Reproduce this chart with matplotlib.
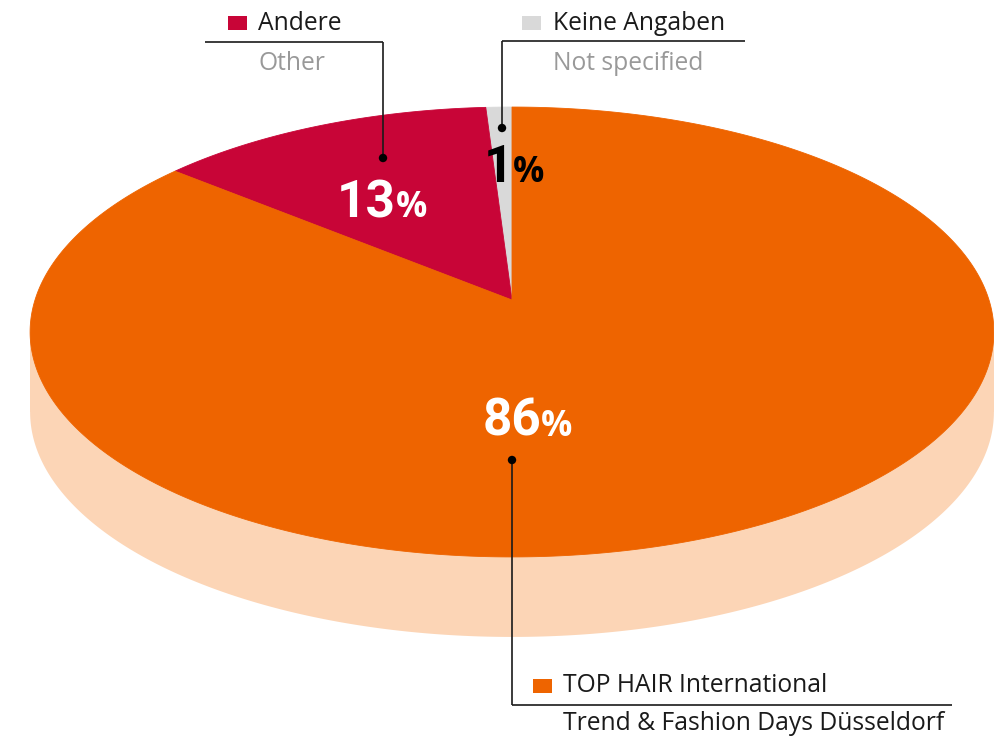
import numpy as np
import matplotlib
matplotlib.use("Agg")
import matplotlib.pyplot as plt
from matplotlib.patches import Polygon, Circle

# ---- data ----
labels_de = ["Keine Angaben", "Andere", "TOP HAIR International"]
labels_en = ["Not specified", "Other", "Trend & Fashion Days Düsseldorf"]
values = [1, 13, 86]
colors = ["#D9D9D9", "#C80537", "#EE6400"]
side_color = "#FCD5B6"

FONT = "Open Sans"
NUMFONT = "Roboto"

fig = plt.figure(figsize=(9.95, 7.38), dpi=100)
ax = fig.add_axes([0, 0, 1, 1])
ax.set_xlim(0, 995)
ax.set_ylim(738, 0)
ax.axis("off")

# perspective disk projection
cx, cy = 512, 300
sx, sy, k = 477.0, 220.4, 0.1422
depth = 80


def proj(u, v, dy=0.0):
    w = 1 + k * v
    return cx + sx * u / w, cy - sy * v / w + dy


# side (thickness)
t = np.linspace(0, 2 * np.pi, 721)
bx, by = proj(np.cos(t), np.sin(t), depth)
ax.add_patch(Polygon(np.column_stack([bx, by]), closed=True, fc=side_color, ec="none", zorder=1))
tx, ty = proj(np.cos(t), np.sin(t))
ax.fill_between([tx.min(), tx.max()], [cy + 32, cy + 32], [cy + 32 + depth, cy + 32 + depth],
                color=side_color, lw=0, zorder=1)

# top wedges
start = 90.0
total = sum(values)
for val, col in zip(values, colors):
    span = 360.0 * val / total
    a = np.radians(np.linspace(start, start + span, max(int(span * 4), 4)))
    px, py = proj(np.cos(a), np.sin(a))
    pts = np.vstack([[cx, cy], np.column_stack([px, py])])
    ax.add_patch(Polygon(pts, closed=True, fc=col, ec=col, lw=0.6, zorder=2))
    start += span

# percentage labels: (split x, baseline y, color)
pct_pos = [(513, 182, "black"), (396, 217, "white"), (541, 436, "white")]
for val, (x, y, c) in zip(values, pct_pos):
    ax.text(x, y, f"{val}", ha="right", va="baseline", fontsize=37, fontweight="bold",
            color=c, family=NUMFONT, zorder=5)
    ax.text(x, y, "%", ha="left", va="baseline", fontsize=25, fontweight="bold",
            color=c, family=FONT, zorder=5)

# leaders
leaders = [
    dict(dot=(502, 128), ly=41, x0=502, x1=745, sq=522, tx=553, y1=23, y2=64, c2="#999999"),
    dict(dot=(383, 158), ly=42, x0=205, x1=383, sq=228, tx=258, y1=23, y2=64, c2="#999999"),
    dict(dot=(512, 460), ly=705, x0=512, x1=952, sq=533, tx=563, y1=686, y2=723, c2="#1a1a1a"),
]
for i, L in enumerate(leaders):
    dx, dyy = L["dot"]
    ax.plot([dx, dx], [dyy, L["ly"]], color="#1a1a1a", lw=1.2, zorder=6, solid_capstyle="butt")
    ax.plot([L["x0"], L["x1"]], [L["ly"], L["ly"]], color="#1a1a1a", lw=1.2, zorder=6,
            solid_capstyle="butt")
    ax.add_patch(Circle((dx, dyy), 4.2, fc="black", ec="none", zorder=7))
    ax.add_patch(Polygon([[L["sq"], L["y1"] - 7.5], [L["sq"] + 19, L["y1"] - 7.5],
                          [L["sq"] + 19, L["y1"] + 6.5], [L["sq"], L["y1"] + 6.5]],
                         closed=True, fc=colors[i], ec="none", zorder=6))
    ax.text(L["tx"], L["y1"], labels_de[i], ha="left", va="center", fontsize=17.7,
            color="#1a1a1a", family=FONT, zorder=6)
    ax.text(L["tx"], L["y2"], labels_en[i], ha="left", va="center", fontsize=17.7,
            color=L["c2"], family=FONT, zorder=6)

fig.savefig("out.png", dpi=100)
